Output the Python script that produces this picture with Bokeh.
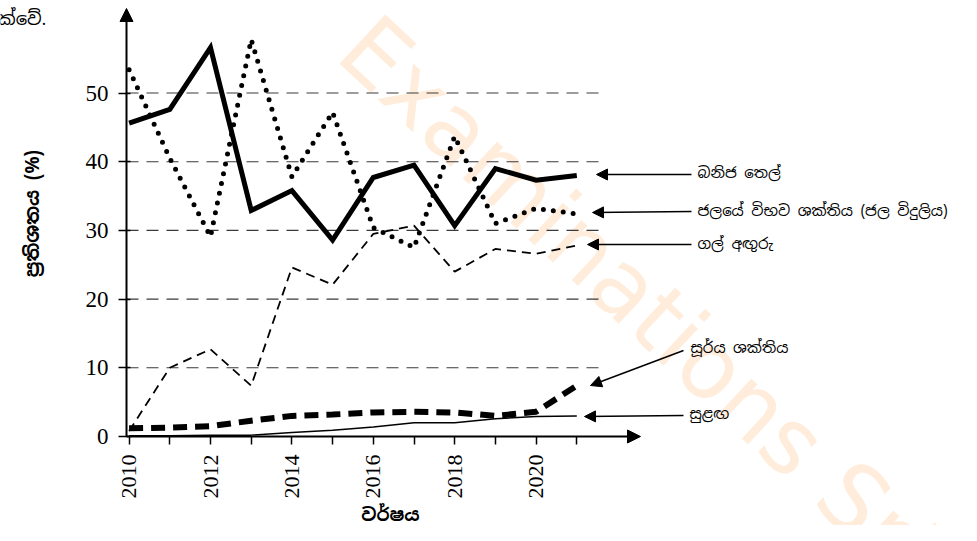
import math
from bokeh.plotting import figure
from bokeh.models import Range1d, FixedTicker, Arrow, NormalHead, Label
from bokeh.embed import file_html
from bokeh.resources import INLINE

# ---------------- data ----------------
years = [2010, 2011, 2012, 2013, 2014, 2015, 2016, 2017, 2018, 2019, 2020, 2021]
mineral_oil = [45.6, 47.6, 56.6, 32.9, 35.8, 28.6, 37.7, 39.5, 30.7, 39.0, 37.3, 38.0]
hydro = [53.4, 40.5, 29.1, 57.8, 37.8, 47.2, 30.4, 27.5, 43.7, 31.0, 33.2, 32.4]
coal = [0.8, 10.0, 12.7, 7.4, 24.6, 22.1, 29.5, 30.7, 24.0, 27.3, 26.6, 27.8]
solar = [1.2, 1.3, 1.5, 2.3, 3.0, 3.2, 3.5, 3.6, 3.5, 3.0, 3.6, 7.4]
wind = [0.1, 0.1, 0.2, 0.2, 0.6, 0.9, 1.4, 2.0, 2.0, 2.6, 2.9, 3.0]

x_major_ticks = [2010, 2012, 2014, 2016, 2018, 2020]
x_minor_ticks = [2011, 2013, 2015, 2017, 2019, 2021]
y_ticks = [0, 10, 20, 30, 40, 50]
grid_levels = [10, 20, 30, 40, 50]

series_names = ["බනිජ තෙල්", "ජලයේ විභව ශක්තිය (ජල විදුලිය)", "ගල් අඟුරු",
                "සූර්ය ශක්තිය", "සුළඟ"]
y_title = "ප්‍රතිශතය (%)"
x_title = "වර්ෂය"

# ------------- helpers: picture pixel -> data -------------
def dx(px):
    return 2010 + (px - 128.6) / 40.7

def dy(py):
    return (436 - py) / 6.87

W, H = 961, 525
X0 = dx(126)
SIN_FONT = "Noto Sans Sinhala"

p = figure(width=W, height=H, output_backend="svg", toolbar_location=None,
           x_range=Range1d(dx(0), dx(W)), y_range=Range1d(dy(H), dy(0)),
           min_border_left=0, min_border_bottom=0, min_border_top=0,
           min_border_right=0)
p.outline_line_color = None
p.grid.visible = False
p.background_fill_color = "white"

# axes placed at the origin of the data space
xa = p.xaxis[0]
xa.fixed_location = 0
xa.ticker = FixedTicker(ticks=x_major_ticks, minor_ticks=x_minor_ticks)
xa.axis_line_color = None
xa.major_tick_in = 0
xa.major_tick_out = 8
xa.minor_tick_in = 0
xa.minor_tick_out = 8
xa.major_tick_line_width = 1.5
xa.minor_tick_line_width = 1.5
xa.major_tick_line_color = "black"
xa.minor_tick_line_color = "black"
xa.major_label_orientation = math.pi / 2
xa.major_label_standoff = 10
xa.major_label_text_font = "Liberation Serif"
xa.major_label_text_font_size = "22px"
xa.major_label_text_color = "black"

ya = p.yaxis[0]
ya.fixed_location = X0
ya.ticker = FixedTicker(ticks=y_ticks, minor_ticks=[])
ya.axis_line_color = None
ya.major_tick_in = 4
ya.major_tick_out = 8
ya.major_tick_line_width = 1.5
ya.major_tick_line_color = "black"
ya.major_label_standoff = 10
ya.major_label_text_font = "Liberation Serif"
ya.major_label_text_font_size = "23px"
ya.major_label_text_color = "black"

# watermark
wm = Label(x=dx(354), y=dy(34), text="Examinations Sri",
           angle=-0.75, text_font="DejaVu Sans",
           text_font_size="92px", text_color="#ffecda",
           text_align="left", text_baseline="alphabetic")
wm.level = "underlay"
p.add_layout(wm)

# dashed grid lines
p.segment(x0=[X0] * len(grid_levels), y0=grid_levels,
          x1=[dx(603)] * len(grid_levels), y1=grid_levels,
          line_color="#3a3a3a", line_width=1.1, line_dash="12 8")

# series
p.line(years, coal, line_color="black", line_width=1.8, line_dash="9 6")
p.line(years, hydro, line_color="black", line_width=5, line_dash="0 10",
       line_cap="round")
p.line(years, mineral_oil, line_color="black", line_width=5, line_join="miter")
p.line(years, solar, line_color="black", line_width=6, line_dash="14 8")
p.line(years, wind, line_color="black", line_width=1.5)

# axis arrows
p.add_layout(Arrow(x_start=X0, y_start=0, x_end=dx(640), y_end=0,
                   line_color="black", line_width=2,
                   end=NormalHead(size=13, fill_color="black", line_color="black")))
p.add_layout(Arrow(x_start=X0, y_start=0, x_end=X0, y_end=dy(8),
                   line_color="black", line_width=2,
                   end=NormalHead(size=13, fill_color="black", line_color="black")))

# series labels with arrows
label_specs = [
    (series_names[0], 697, 172, (691, 174), (596, 174)),
    (series_names[1], 697, 210, (691, 211), (592, 212)),
    (series_names[2], 697, 243, (691, 244), (587, 244)),
    (series_names[3], 690, 347, (683, 350), (590, 385)),
    (series_names[4], 689, 413, (683, 415), (584, 416)),
]
for name, lx, ly, tail, tip in label_specs:
    p.add_layout(Arrow(x_start=dx(tail[0]), y_start=dy(tail[1]),
                       x_end=dx(tip[0]), y_end=dy(tip[1]),
                       line_color="black", line_width=1.5,
                       end=NormalHead(size=11, fill_color="black",
                                      line_color="black")))
    p.add_layout(Label(x=dx(lx), y=dy(ly), text=name, text_font=SIN_FONT,
                       text_font_size="15px", text_color="black",
                       text_align="left", text_baseline="middle"))

# axis titles
p.add_layout(Label(x=dx(32), y=dy(213), text=y_title, text_font=SIN_FONT,
                   text_font_size="19px", text_font_style="bold",
                   text_color="black", text_align="center",
                   text_baseline="middle", angle=math.pi / 2))
p.add_layout(Label(x=dx(390), y=dy(514), text=x_title, text_font=SIN_FONT,
                   text_font_size="18px", text_font_style="bold",
                   text_color="black", text_align="center",
                   text_baseline="middle"))

# cut-off text at top-left
p.add_layout(Label(x=dx(-3), y=dy(18), text="ක්වේ.", text_font=SIN_FONT,
                   text_font_size="18px", text_color="black",
                   text_align="left", text_baseline="middle"))

open("out.html", "w").write(file_html(p, INLINE))
